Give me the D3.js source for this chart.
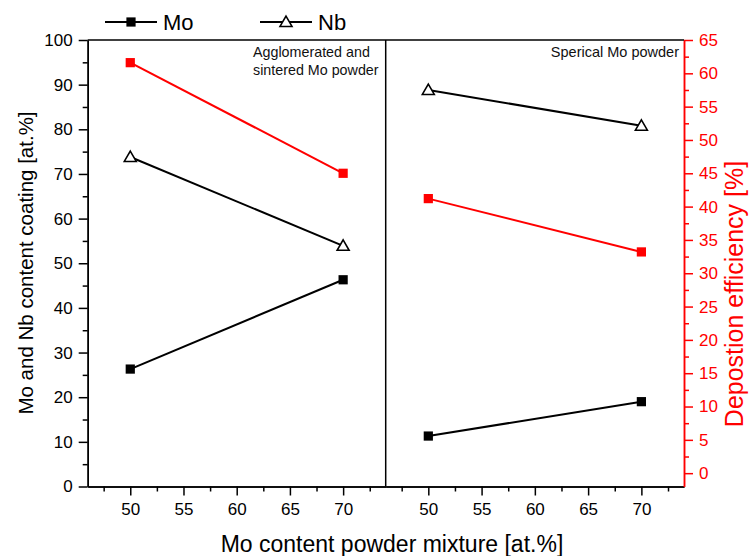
<!DOCTYPE html>
<html lang="en">
<head>
  <meta charset="UTF-8">
  <title>Mo / Nb coating</title>
  <script src="https://cdn.jsdelivr.net/npm/d3@7"></script>
  <style>
    body { margin: 0; background: #fff; }
    svg { font-family: "Liberation Sans", Arial, sans-serif; display: block; }
    .axis path, .axis line { stroke-width: 1.5px; }
  </style>
</head>
<body>
  <svg class="svg"></svg>
  <script>
    // values
    const xValues = [50, 70];
    const panelNotes = [["Agglomerated and", "sintered Mo powder"], ["Sperical Mo powder"]];
    const moLeft = [26.3, 46.3];
    const nbLeft = [73.8, 53.9];
    const effLeft = [61.6, 45.0];
    const moRight = [11.3, 19.0];
    const nbRight = [88.8, 80.8];
    const effRight = [41.2, 33.2];
    const xTicks = [50, 55, 60, 65, 70];
    const leftTicks = d3.range(0, 101, 10);
    const rightTicks = d3.range(0, 66, 5);

    const w = 750, h = 556;
    const pLeft = 87.7, pMid = 385.7, pRight = 684, pTop = 40, pBottom = 486.5;

    const svg = d3.select('.svg').attr('width', w).attr('height', h);

    const x1 = d3.scaleLinear().domain([46, 74]).range([pLeft, pMid]);
    const x2 = d3.scaleLinear().domain([46, 74]).range([pMid, pRight]);
    const yL = d3.scaleLinear().domain([0, 100]).range([pBottom, pTop]);
    const yR = d3.scaleLinear().domain([-2, 65]).range([pBottom, pTop]);

    const minorX = d3.range(47.5, 74, 5);

    // bottom axes, one per panel
    [x1, x2].forEach(xs => {
      svg.append('g').attr('class', 'axis').attr('transform', `translate(0,${pBottom})`)
        .call(d3.axisBottom(xs).tickValues(minorX).tickSize(5).tickSizeOuter(0).tickFormat(''));
      svg.append('g').attr('class', 'axis').attr('transform', `translate(0,${pBottom})`)
        .call(d3.axisBottom(xs).tickValues(xTicks).tickSize(9).tickPadding(7).tickSizeOuter(0))
        .call(g => g.selectAll('text').attr('font-size', 17).attr('fill', '#000'));
    });

    // left axis
    svg.append('g').attr('class', 'axis').attr('transform', `translate(${pLeft},0)`)
      .call(d3.axisLeft(yL).tickValues(d3.range(5, 100, 10)).tickSize(5).tickSizeOuter(0).tickFormat(''));
    svg.append('g').attr('class', 'axis').attr('transform', `translate(${pLeft},0)`)
      .call(d3.axisLeft(yL).tickValues(leftTicks).tickSize(9).tickPadding(6).tickSizeOuter(0))
      .call(g => g.selectAll('text').attr('font-size', 17).attr('fill', '#000'));

    // right axis (red)
    svg.append('g').attr('class', 'axis').attr('transform', `translate(${pRight},0)`)
      .call(d3.axisRight(yR).tickValues(d3.range(2.5, 65, 5)).tickSize(5).tickSizeOuter(0).tickFormat(''))
      .call(g => g.selectAll('path, line').attr('stroke', 'red'));
    svg.append('g').attr('class', 'axis').attr('transform', `translate(${pRight},0)`)
      .call(d3.axisRight(yR).tickValues(rightTicks).tickSize(9).tickPadding(6).tickSizeOuter(0))
      .call(g => g.selectAll('path, line').attr('stroke', 'red'))
      .call(g => g.selectAll('text').attr('font-size', 17).attr('fill', 'red'));

    // top frame and divider
    svg.append('line').attr('x1', pLeft).attr('x2', pRight).attr('y1', pTop).attr('y2', pTop)
      .attr('stroke', '#000').attr('stroke-width', 1.5);
    svg.append('line').attr('x1', pMid).attr('x2', pMid).attr('y1', pTop).attr('y2', pBottom)
      .attr('stroke', '#000').attr('stroke-width', 1.5);

    const square = d3.symbol().type(d3.symbolSquare).size(85);
    const triangle = d3.symbol().type(d3.symbolTriangle).size(62);

    function drawSeries(xs, ys, vals, color, sym, hollow) {
      const pts = xValues.map((v, i) => [xs(v), ys(vals[i])]);
      svg.append('path')
        .attr('d', d3.line()(pts))
        .attr('fill', 'none').attr('stroke', color).attr('stroke-width', 2);
      svg.selectAll(null).data(pts).enter().append('path')
        .attr('transform', d => `translate(${d[0]},${d[1] + (hollow ? 1 : 0)})`)
        .attr('d', sym)
        .attr('fill', hollow ? '#fff' : color)
        .attr('stroke', color).attr('stroke-width', hollow ? 1.6 : 0);
    }

    drawSeries(x1, yR, effLeft, 'red', square, false);
    drawSeries(x1, yL, nbLeft, '#000', triangle, true);
    drawSeries(x1, yL, moLeft, '#000', square, false);
    drawSeries(x2, yR, effRight, 'red', square, false);
    drawSeries(x2, yL, nbRight, '#000', triangle, true);
    drawSeries(x2, yL, moRight, '#000', square, false);

    // panel notes
    svg.append('text').attr('y', 57).attr('font-size', 14.3).attr('fill', '#111')
      .selectAll('tspan').data(panelNotes[0]).enter().append('tspan')
      .attr('x', 253).attr('dy', (d, i) => i ? 17.5 : 0).text(d => d);
    svg.append('text').attr('x', 679).attr('y', 57).attr('font-size', 14.5).attr('fill', '#111')
      .attr('text-anchor', 'end').text(panelNotes[1][0]);

    // axis titles
    svg.append('text').attr('x', 392).attr('y', 552).attr('text-anchor', 'middle')
      .attr('font-size', 23).text('Mo content powder mixture [at.%]');
    svg.append('text').attr('transform', 'translate(33,263) rotate(-90)').attr('text-anchor', 'middle')
      .attr('font-size', 20.5).text('Mo and Nb content coating [at.%]');
    svg.append('text').attr('transform', 'translate(743,294) rotate(-90)').attr('text-anchor', 'middle')
      .attr('font-size', 25).attr('fill', 'red').text('Depostion efficiency [%]');

    // legend
    const legend = [
      { name: 'Mo', x: 105, sym: square, hollow: false },
      { name: 'Nb', x: 260, sym: triangle, hollow: true }
    ];
    const lg = svg.selectAll('.leg').data(legend).enter().append('g')
      .attr('transform', d => `translate(${d.x},22)`);
    lg.append('line').attr('x1', 0).attr('x2', 52).attr('stroke', '#000').attr('stroke-width', 2);
    lg.append('path').attr('transform', d => `translate(26,${d.hollow ? 1 : 0})`).attr('d', d => d.sym())
      .attr('fill', d => d.hollow ? '#fff' : '#000').attr('stroke', '#000')
      .attr('stroke-width', d => d.hollow ? 1.6 : 0);
    lg.append('text').attr('x', 58).attr('y', 8).attr('font-size', 22).text(d => d.name);
  </script>
</body>
</html>
